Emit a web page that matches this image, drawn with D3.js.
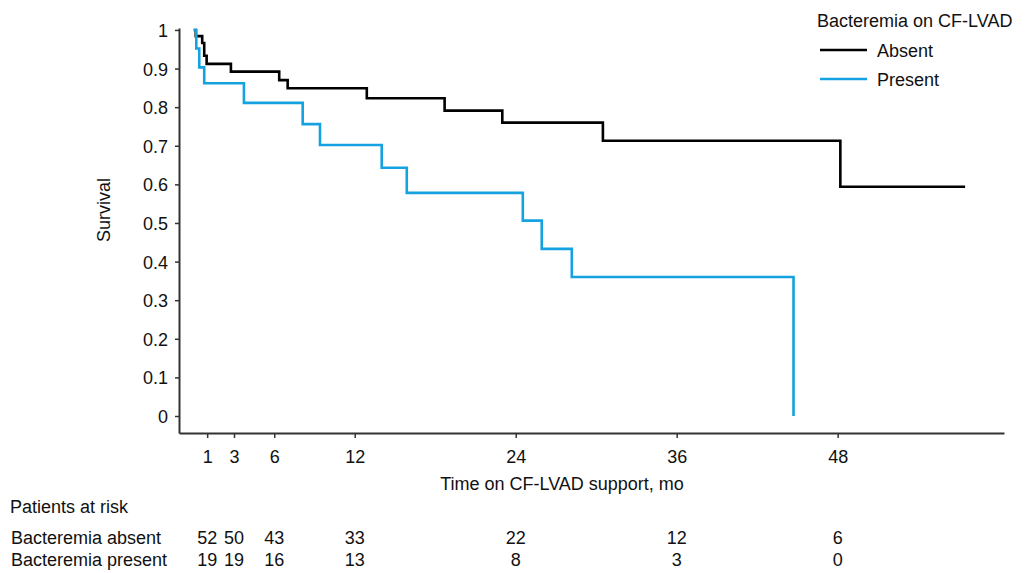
<!DOCTYPE html>
<html>
<head>
<meta charset="utf-8">
<script src="https://cdn.jsdelivr.net/npm/d3@7"></script>
<style>
  body { margin: 0; background: #fff; }
  svg text { font-family: "Liberation Sans", Arial, sans-serif; font-size: 18px; fill: #111; }
</style>
</head>
<body>
<div id="chart"></div>
<script>
// Kaplan-Meier steps (months, survival)
const absentTimes = [0, 0.15, 0.63, 0.78, 0.96, 2.77, 6.37, 7.0, 12.9, 18.7, 23.0, 30.5, 48.2, 57.5];
const absentSurv  = [1, 0.984, 0.966, 0.933, 0.912, 0.892, 0.870, 0.849, 0.823, 0.791, 0.760, 0.713, 0.594, 0.594];
const presentTimes = [0, 0.19, 0.41, 0.78, 3.74, 8.12, 9.41, 14.01, 15.88, 24.53, 25.94, 28.18, 44.71];
const presentSurv  = [1, 0.952, 0.903, 0.862, 0.811, 0.756, 0.702, 0.643, 0.578, 0.506, 0.433, 0.360, 0];

// axis ticks
const xTicks = [1, 3, 6, 12, 24, 36, 48];
const yTicks = [0, 0.1, 0.2, 0.3, 0.4, 0.5, 0.6, 0.7, 0.8, 0.9, 1];

// patients at risk table
const riskLabels = ["Bacteremia absent", "Bacteremia present"];
const riskAbsent = [52, 50, 43, 33, 22, 12, 6];
const riskPresent = [19, 19, 16, 13, 8, 3, 0];

const seriesNames = ["Absent", "Present"];
const colors = ["#000000", "#15a2e0"];

const width = 1029, height = 573;

const svg = d3.select("#chart")
  .append("svg")
  .attr("width", width)
  .attr("height", height);

// scales (axis frame runs a little past 0 and 1 / 0 and 60 mo)
const xScale = d3.scaleLinear().domain([-1.1, 60.4]).range([179, 1004]);
const yScale = d3.scaleLinear().domain([-0.044, 1.005]).range([433, 28]);

const axisColor = "#333";

// y axis
const yAxis = svg.append("g")
  .attr("transform", `translate(${xScale.range()[0]},0)`)
  .call(d3.axisLeft(yScale)
    .tickValues(yTicks)
    .tickSize(4)
    .tickSizeOuter(0)
    .tickPadding(7)
    .tickFormat(d => d === 0 ? "0" : d === 1 ? "1" : d3.format(".1f")(d)));
yAxis.select(".domain").attr("stroke", axisColor).attr("stroke-width", 2);
yAxis.selectAll(".tick line").attr("stroke", axisColor).attr("stroke-width", 1.5);
yAxis.selectAll(".tick text").attr("dy", "0.36em").attr("font-size", null).attr("font-family", null);

// x axis
const xAxis = svg.append("g")
  .attr("transform", `translate(0,${yScale.range()[0]})`)
  .call(d3.axisBottom(xScale)
    .tickValues(xTicks)
    .tickSize(5)
    .tickSizeOuter(0));
xAxis.select(".domain").attr("stroke", axisColor).attr("stroke-width", 2);
xAxis.selectAll(".tick line").attr("stroke", axisColor).attr("stroke-width", 1.5);
xAxis.selectAll(".tick text").attr("y", 30).attr("dy", null).attr("font-size", null).attr("font-family", null);

// axis titles
svg.append("text")
  .attr("text-anchor", "middle")
  .attr("x", 562)
  .attr("y", 490)
  .text("Time on CF-LVAD support, mo");

svg.append("text")
  .attr("text-anchor", "middle")
  .attr("transform", `translate(110,210) rotate(-90)`)
  .text("Survival");

// survival curves
const line = d3.line()
  .x(d => xScale(d[0]))
  .y(d => yScale(d[1]))
  .curve(d3.curveStepAfter);

const curves = [
  d3.zip(absentTimes, absentSurv),
  d3.zip(presentTimes, presentSurv)
];

curves.forEach((pts, i) => {
  svg.append("path")
    .datum(pts)
    .attr("fill", "none")
    .attr("stroke", colors[i])
    .attr("stroke-width", 2.6)
    .attr("d", line);
});

// legend
const legend = svg.append("g");
legend.append("text")
  .attr("x", 817)
  .attr("y", 27)
  .text("Bacteremia on CF-LVAD");

seriesNames.forEach((name, i) => {
  const ly = 50 + i * 29;
  legend.append("line")
    .attr("x1", 820).attr("x2", 867)
    .attr("y1", ly).attr("y2", ly)
    .attr("stroke", colors[i])
    .attr("stroke-width", 2.6);
  legend.append("text")
    .attr("x", 877)
    .attr("y", ly + 7)
    .text(name);
});

// patients at risk
svg.append("text")
  .attr("x", 10)
  .attr("y", 513)
  .text("Patients at risk");

const riskRows = [riskAbsent, riskPresent];
riskRows.forEach((row, r) => {
  const by = 544 + r * 22;
  svg.append("text")
    .attr("x", 11)
    .attr("y", by)
    .text(riskLabels[r]);
  svg.selectAll(null)
    .data(row)
    .enter()
    .append("text")
    .attr("text-anchor", "middle")
    .attr("x", (d, i) => xScale(xTicks[i]))
    .attr("y", by)
    .text(d => d);
});
</script>
</body>
</html>
